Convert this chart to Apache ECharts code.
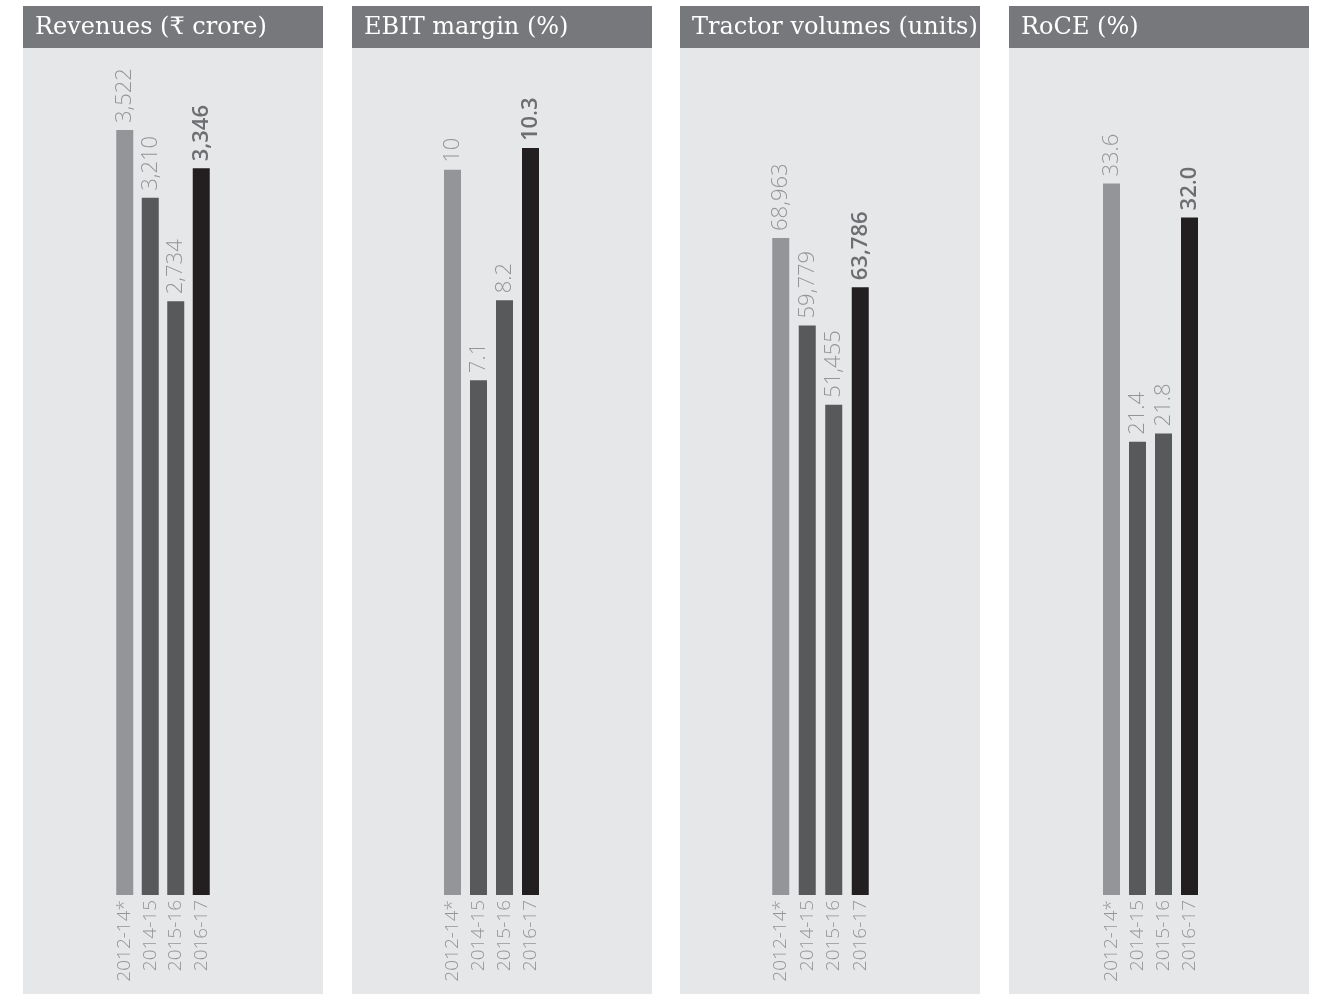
<!DOCTYPE html>
<html>
<head>
<meta charset="utf-8">
<script src="https://cdn.jsdelivr.net/npm/echarts@6/dist/echarts.min.js"></script>
<style>html,body{margin:0;padding:0;background:#fff}#c{width:1322px;height:994px}</style>
</head>
<body>
<div id="c"></div>
<script>
var categories = ['2012-14*', '2014-15', '2015-16', '2016-17'];
var titles = ['Revenues (\u20B9 crore)', 'EBIT margin (%)', 'Tractor volumes (units)', 'RoCE (%)'];
var revenues = [3522, 3210, 2734, 3346];
var ebitMargin = [10, 7.1, 8.2, 10.3];
var tractorVolumes = [68963, 59779, 51455, 63786];
var roce = [33.6, 21.4, 21.8, 32.0];
var barColors = ['#939598', '#58595b', '#58595b', '#231f20'];

var panels = [
  {data: revenues, max: 3900, fmt: function (v) { return v.toLocaleString('en-US'); }, px: 23, gl: 112, gw: 102},
  {data: ebitMargin, max: 11.68, fmt: function (v) { return String(v); }, px: 352, gl: 439.5, gw: 104},
  {data: tractorVolumes, max: 88900, fmt: function (v) { return v.toLocaleString('en-US'); }, px: 680, gl: 767.5, gw: 106},
  {data: roce, max: 40, fmt: function (v) { return v.toFixed(1); }, px: 1009, gl: 1098.5, gw: 104}
];

var labelFont = '"Open Sans", "Noto Sans", sans-serif';
var grids = [], xAxes = [], yAxes = [], series = [], graphics = [];
panels.forEach(function (p, i) {
  graphics.push({type: 'rect', z: -10, shape: {x: p.px, y: 48, width: 300, height: 946}, style: {fill: '#e6e7e8'}});
  graphics.push({type: 'rect', z: -10, shape: {x: p.px, y: 6, width: 300, height: 42}, style: {fill: '#77787b'}});
  graphics.push({type: 'text', z: 10, x: p.px + 12, y: 28, style: {text: titles[i], fill: '#ffffff', font: '300 24px "DejaVu Serif", "Noto Sans", serif', textVerticalAlign: 'middle'}});
  grids.push({left: p.gl, width: p.gw, top: 48, bottom: 99});
  xAxes.push({type: 'category', gridIndex: i, data: categories,
    axisLine: {show: false}, axisTick: {show: false},
    axisLabel: {rotate: 90, margin: 5, color: '#939598', fontSize: 19, fontFamily: labelFont, fontWeight: 300}});
  yAxes.push({type: 'value', gridIndex: i, min: 0, max: p.max, show: false, splitLine: {show: false}});
  series.push({type: 'bar', xAxisIndex: i, yAxisIndex: i, barWidth: 17,
    data: p.data.map(function (v, j) {
      var last = j === p.data.length - 1;
      return {value: v, itemStyle: {color: barColors[j]},
        label: {show: true, position: 'top', rotate: 90, align: 'left', verticalAlign: 'middle', distance: 7,
          formatter: p.fmt(v), fontSize: 22, fontFamily: labelFont,
          fontWeight: last ? 600 : 300, color: last ? '#6d6e71' : '#939598'}};
    })
  });
});

var chart = echarts.init(document.getElementById('c'));
chart.setOption({
  animation: false,
  backgroundColor: '#ffffff',
  grid: grids, xAxis: xAxes, yAxis: yAxes, series: series, graphic: graphics
});
</script>
</body>
</html>
